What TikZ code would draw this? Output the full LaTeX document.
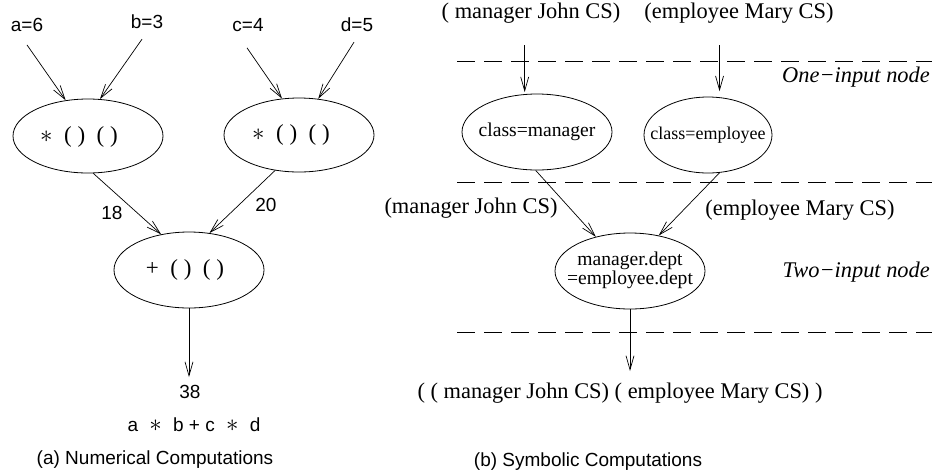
\documentclass[tikz,border=0pt]{standalone}
\usepackage{fontspec}
\setmainfont{Liberation Serif}
\setsansfont{Liberation Sans}
\usetikzlibrary{shapes.geometric,arrows.meta,calc}
\begin{document}
\begin{tikzpicture}[x=1pt,y=-1pt,
  ell/.style={draw, ellipse, inner sep=0pt, line width=0.8pt},
  arr/.style={-{Straight Barb[length=14pt,width=8pt,line width=0.7pt]}, line width=0.7pt},
  sf/.style={font=\sffamily\fontsize{19}{22}\selectfont, inner sep=0pt},
  rm/.style={font=\fontsize{22.4}{26}\selectfont, inner sep=0pt},
  rmi/.style={font=\itshape\fontsize{22.4}{26}\selectfont, inner sep=0pt},
  rms/.style={font=\fontsize{19.6}{19}\selectfont},
  op/.style={font=\fontsize{23}{26}\selectfont, inner sep=0pt},
  dline/.style={dash pattern=on 18pt off 9pt, line width=0.8pt}]
\useasboundingbox (0,0) rectangle (932,475);

% ---------- (a) numerical ----------
\node[sf] (a) at (27,25) {a=6};
\node[sf] (b) at (147,22) {b=3};
\node[sf] (c) at (248,25) {c=4};
\node[sf] (d) at (357,25) {d=5};
\node[ell, minimum width=150pt, minimum height=74pt] (e1) at (88,136) {};
\node[ell, minimum width=150pt, minimum height=74pt] (e2) at (299,135) {};
\node[ell, minimum width=150pt, minimum height=76pt] (pl) at (189,270) {};
\node[op] (t1) at (79,137) {$\ast$\enspace( )\enspace( )};
\node[op] (t2) at (291,135) {$\ast$\enspace( )\enspace( )};
\node[op] (t3) at (185,270) {+\enspace( )\enspace( )};

\draw[arr] ($(a.south)+(0,13)$) -- (e1.122);
\draw[arr] ($(b.south)+(-5,10)$) -- (e1.72);
\draw[arr] ($(c.south)+(-1,16)$) -- (e2.115);
\draw[arr] ($(d.south)+(-3,10)$) -- (e2.62);
\draw[arr] (e1.-82) -- (pl.128);
\draw[arr] (e2.-124) -- (pl.61);

\node[sf] (l18) at (112,213) {18};
\node[sf] (l20) at (266,205) {20};
\node[sf] (n38) at (190,392) {38};
\draw[arr, shorten >=8pt] (pl.south) -- (pl.south |- n38.north);
\node[sf] (expr) at (194,425) {a\hspace{6pt} {\fontsize{23}{26}\selectfont$\ast$}\hspace{6pt} b + c\hspace{6pt} {\fontsize{23}{26}\selectfont$\ast$}\hspace{6pt} d};
\node[sf] (capa) at (155,460) {(a) Numerical Computations};

% ---------- (b) symbolic ----------
\node[rm] (tl1) at (531,13) {( manager John CS)};
\node[rm] (tl2) at (739,13) {(employee Mary CS)};
\draw[dline] (457,61) -- (932,61);
\draw[dline] (457,182) -- (932,182);
\draw[dline] (457,332) -- (932,332);
\node[rmi, anchor=east] (one) at (930,77) {One−input node};
\node[rmi, anchor=east] (two) at (930,272) {Two−input node};

\node[ell, rms, minimum width=150pt, minimum height=76pt] (cm) at (537,132) {\makebox[0pt]{class=manager}};
\node[ell, rms, font=\fontsize{18}{19}\selectfont, minimum width=128pt, minimum height=76pt] (ce) at (708,135) {\makebox[0pt]{class=employee}};
\node[ell, rms, minimum width=150pt, minimum height=76pt] (md) at (630,271)
  {\makebox[0pt]{\begin{tabular}{@{}c@{}}manager.dept\\=employee.dept\end{tabular}}};

\draw[arr, shorten <=22pt, shorten >=2pt] (tl1.south -| cm.108) -- (cm.108);
\draw[arr, shorten <=22pt, shorten >=6pt] (tl2.south -| ce.73) -- (ce.73);
\draw[arr] (cm.-92) -- (md.135);
\draw[arr] (ce.-73) -- (md.51);

\node[rm] (lm) at (471,208) {(manager John CS)};
\node[rm] (le) at (800,210) {(employee Mary CS)};
\node[rm] (res) at (620,393) {( ( manager John CS) ( employee Mary CS) )};
\draw[arr, shorten >=22pt] (md.south) -- (md.south |- res.center);
\node[sf] (capb) at (588,462) {(b) Symbolic Computations};
\end{tikzpicture}
\end{document}
